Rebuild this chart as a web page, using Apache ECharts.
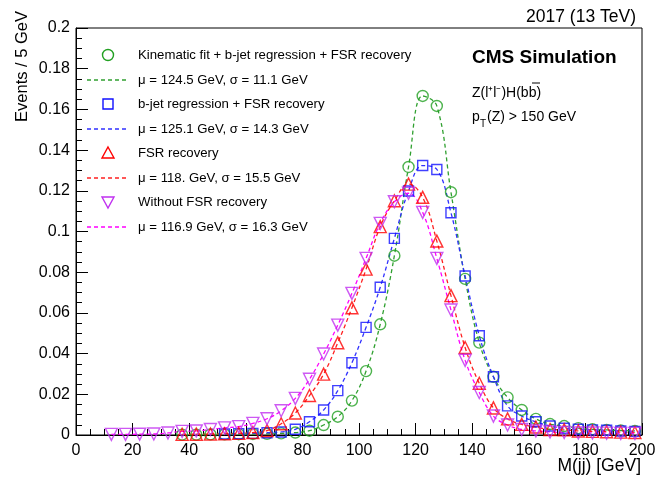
<!DOCTYPE html>
<html>
<head>
<meta charset="utf-8">
<script src="https://cdn.jsdelivr.net/npm/echarts@6/dist/echarts.min.js"></script>
<style>html,body{margin:0;padding:0;background:#fff}#c{width:668px;height:485px}</style>
</head>
<body>
<div id="c"></div>
<script>
// Bin centres (GeV), 5 GeV bins
var binCenters = [12.5,17.5,22.5,27.5,32.5,37.5,42.5,47.5,52.5,57.5,62.5,67.5,72.5,77.5,82.5,87.5,92.5,97.5,102.5,107.5,112.5,117.5,122.5,127.5,132.5,137.5,142.5,147.5,152.5,157.5,162.5,167.5,172.5,177.5,182.5,187.5,192.5,197.5];

var kinFit = [null,null,null,null,null,
  0.0002,0.0002,0.0003,0.0003,0.0004,0.0005,0.0006,0.0008,0.0012,0.0021,
  0.0049,0.0090,0.0169,0.0314,0.0544,0.0881,0.1317,0.1666,0.1617,0.1193,
  0.0767,0.0454,0.0286,0.0185,0.0123,0.0079,0.0054,0.0044,0.0034,0.0028,
  0.0025,0.0022,0.0020];
var bjetReg = [null,null,null,null,null,null,null,null,
  0.0005,0.0007,0.0008,0.0011,0.0015,0.0028,0.0065,0.0123,0.0218,0.0355,
  0.0529,0.0726,0.0966,0.1199,0.1324,0.1305,0.1092,0.0781,0.0488,0.0286,
  0.0143,0.0093,0.0065,0.0044,0.0033,0.0028,0.0025,0.0023,0.0020,0.0018];
var fsrRec = [null,null,null,null,null,
  0.0003,0.0004,0.0005,0.0006,0.0008,0.0012,0.0022,0.0055,0.0108,0.0194,
  0.0299,0.0453,0.0625,0.0815,0.1024,0.1151,0.1233,0.1168,0.0953,0.0685,
  0.0430,0.0254,0.0133,0.0079,0.0052,0.0039,0.0027,0.0025,0.0020,0.0018,
  0.0016,0.0014,0.0012];
var noFsr = [0.0003,0.0003,0.0004,0.0005,0.0010,
  0.0018,0.0020,0.0027,0.0035,0.0041,0.0057,0.0080,0.0119,0.0180,0.0274,
  0.0398,0.0540,0.0696,0.0868,0.1040,0.1146,0.1188,0.1094,0.0868,0.0614,
  0.0367,0.0209,0.0093,0.0049,0.0027,0.0020,0.0015,0.0012,0.0010,0.0010,
  0.0009,0.0008,0.0008];

var markerNames = ['Kinematic fit + b-jet regression + FSR recovery','b-jet regression + FSR recovery','FSR recovery','Without FSR recovery'];
var fitNames = ['\u03bc = 124.5 GeV, \u03c3 = 11.1 GeV','\u03bc = 125.1 GeV, \u03c3 = 14.3 GeV','\u03bc = 118. GeV, \u03c3 = 15.5 GeV','\u03bc = 116.9 GeV, \u03c3 = 16.3 GeV'];
var xTicks = [0,20,40,60,80,100,120,140,160,180,200];

var sets = [kinFit, bjetReg, fsrRec, noFsr];
var markerColors = ['#22a022','#1010ff','#ff0000','#c030f0'];
var lineColors = ['#30a030','#3030ff','#ff2020','#ff00ff'];
var symbols = ['circle','rect','triangle','triangle'];
var rotates = [0,0,0,180];
var sizes = [11,10,12,12];

function pairs(arr){
  var out = [];
  for (var i=0;i<binCenters.length;i++){ if(arr[i]!==null) out.push([binCenters[i], arr[i]]); }
  return out;
}

var series = [];
for (var k=0;k<4;k++){
  series.push({
    name: markerNames[k], type:'scatter', data: pairs(sets[k]),
    symbol: symbols[k], symbolRotate: rotates[k], symbolSize: sizes[k],
    itemStyle: {color:'rgba(0,0,0,0)', borderColor: markerColors[k], borderWidth:1.4},
    clip:false, z: 3, emphasis:{disabled:true}, silent:true
  });
  series.push({
    name: fitNames[k], type:'line', data: pairs(sets[k]),
    symbol:'none', smooth:0.4,
    lineStyle: {color: lineColors[k], width:1.3, type:[4,3]},
    itemStyle: {color: lineColors[k]},
    z: 2, emphasis:{disabled:true}, silent:true
  });
}

var FONT = 'Liberation Sans, Arial, Helvetica, sans-serif';

// Manual legend (icons + real text)
var legendGraphics = [];
var ly0 = 55, lstep = 24.5, iconX = 108;
for (var j=0;j<4;j++){
  var yM = ly0 + (2*j)*lstep, yL = Math.round(ly0 + (2*j+1)*lstep);
  var st = {fill:'none', stroke: markerColors[j], lineWidth:1.4};
  if (j===0) legendGraphics.push({type:'circle', shape:{cx:iconX, cy:yM, r:5.5}, style:st});
  else if (j===1) legendGraphics.push({type:'rect', shape:{x:iconX-5, y:yM-5, width:10, height:10}, style:st});
  else if (j===2) legendGraphics.push({type:'polygon', shape:{points:[[iconX,yM-6],[iconX+6,yM+5],[iconX-6,yM+5]]}, style:st});
  else legendGraphics.push({type:'polygon', shape:{points:[[iconX-6,yM-5],[iconX+6,yM-5],[iconX,yM+6]]}, style:st});
  legendGraphics.push({type:'text', x:138, y:yM, style:{text:markerNames[j], fontSize:13.2, fontFamily:FONT, fill:'#000', align:'left', verticalAlign:'middle'}});
  legendGraphics.push({type:'line', shape:{x1:87, y1:yL, x2:128, y2:yL}, style:{stroke: lineColors[j], lineWidth:1.5, lineDash:[4,3]}});
  legendGraphics.push({type:'text', x:138, y:yL, style:{text:fitNames[j], fontSize:13.2, fontFamily:FONT, fill:'#000', align:'left', verticalAlign:'middle'}});
}

var chart = echarts.init(document.getElementById('c'), null, {renderer:'canvas'});
chart.setOption({
  animation:false,
  backgroundColor:'#fff',
  textStyle:{fontFamily:FONT},
  grid:{left:76, right:26, top:28, bottom:50, show:true, borderColor:'#000', borderWidth:1, backgroundColor:'transparent'},
  xAxis:{
    type:'value', min:0, max:200, interval:20,
    axisLine:{lineStyle:{color:'#000', width:1}},
    axisTick:{inside:true, length:12, lineStyle:{color:'#000', width:1}},
    minorTick:{show:true, splitNumber:4, length:6, lineStyle:{color:'#000', width:1}},
    splitLine:{show:false},
    axisLabel:{fontSize:16, color:'#000', margin:8, fontFamily:FONT,
      formatter:function(v){ return xTicks.indexOf(v)>=0 ? String(v) : ''; }}
  },
  yAxis:{
    type:'value', min:0, max:0.2, interval:0.02,
    axisLine:{lineStyle:{color:'#000', width:1}},
    axisTick:{inside:true, length:12, lineStyle:{color:'#000', width:1}},
    minorTick:{show:true, splitNumber:4, length:6, lineStyle:{color:'#000', width:1}},
    splitLine:{show:false},
    axisLabel:{fontSize:16, color:'#000', margin:6, fontFamily:FONT,
      formatter:function(v){ return String(+v.toFixed(3)); }}
  },
  graphic:[
    {type:'text', x:636, y:17, style:{text:'2017 (13 TeV)', fontSize:17.5, fontFamily:FONT, fill:'#000', align:'right', verticalAlign:'middle'}},
    {type:'text', x:472, y:58, style:{text:'CMS Simulation', fontSize:19, fontWeight:'bold', fontFamily:FONT, fill:'#000', align:'left', verticalAlign:'middle'}},
    {type:'text', x:472, y:93, style:{text:'Z(l\u207al\u207b)H(bb)', fontSize:14, fontFamily:FONT, fill:'#000', align:'left', verticalAlign:'middle'}},
    {type:'line', shape:{x1:532, y1:83, x2:540, y2:83}, style:{stroke:'#000', lineWidth:1}},
    {type:'text', x:472, y:117, style:{text:'p', fontSize:14, fontFamily:FONT, fill:'#000', align:'left', verticalAlign:'middle'}},
    {type:'text', x:480, y:124, style:{text:'T', fontSize:10, fontFamily:FONT, fill:'#000', align:'left', verticalAlign:'middle'}},
    {type:'text', x:487, y:117, style:{text:'(Z) > 150 GeV', fontSize:14, fontFamily:FONT, fill:'#000', align:'left', verticalAlign:'middle'}},
    {type:'text', x:641, y:466, style:{text:'M(jj) [GeV]', fontSize:17.5, fontFamily:FONT, fill:'#000', align:'right', verticalAlign:'middle'}},
    {type:'text', x:22, y:11, rotation:Math.PI/2, style:{text:'Events / 5 GeV', fontSize:16.5, fontFamily:FONT, fill:'#000', align:'right', verticalAlign:'middle'}}
  ].concat(legendGraphics),
  series: series
});
</script>
</body>
</html>
